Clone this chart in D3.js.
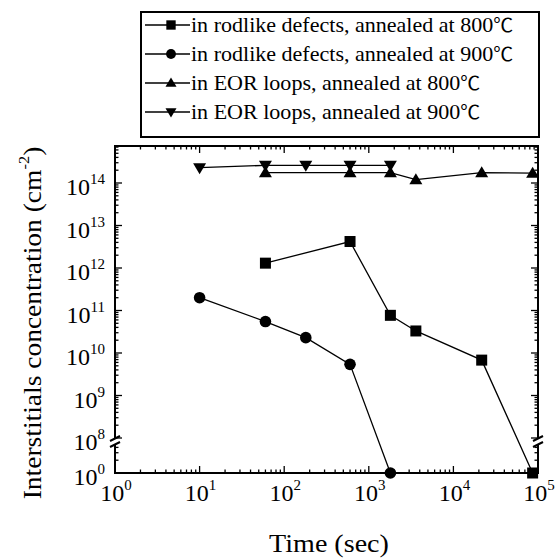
<!DOCTYPE html>
<html><head><meta charset="utf-8">
<script src="https://cdn.jsdelivr.net/npm/d3@7"></script>
<style>
html,body{margin:0;padding:0;background:#fff;}
</style></head>
<body><svg id="c" width="558" height="560"></svg>
<script>
// ---- data ----
const seriesNames = [
  "in rodlike defects, annealed at 800",
  "in rodlike defects, annealed at 900",
  "in EOR loops, annealed at 800",
  "in EOR loops, annealed at 900"
];
const unitSymbol = "\u2103";
const timeRod800 = [60, 600, 1800, 3600, 21600, 86400];
const rod800 = [1.3e12, 4.2e12, 7.7e10, 3.3e10, 6.8e9, 1];
const timeRod900 = [10, 60, 180, 600, 1800];
const rod900 = [2.0e11, 5.5e10, 2.3e10, 5.4e9, 1];
const timeEOR800 = [60, 600, 1800, 3600, 21600, 86400];
const eor800 = [1.75e14, 1.75e14, 1.75e14, 1.2e14, 1.75e14, 1.7e14];
const timeEOR900 = [10, 60, 180, 600, 1800];
const eor900 = [2.3e14, 2.6e14, 2.6e14, 2.6e14, 2.6e14];
const xTickExps = [0, 1, 2, 3, 4, 5];
const yTickExpsUpper = [8, 9, 10, 11, 12, 13, 14];
const yTickExpsLower = [0];
const markerTypes = ["square", "circle", "triangleUp", "triangleDown"];

const FONT = "Liberation Serif";
// ---- layout ----
const svg = d3.select("#c");
const L = 115, R = 538, T = 146, B = 473;
const breakTop = 439, breakBot = 445;
const x = d3.scaleLog().domain([1, 1e5]).range([L, R]);
const yUp = d3.scaleLog().domain([1e8, 1e14]).range([438, 183]);
const yLo = d3.scaleLog().domain([1, 10]).range([B, B - 42.5]);
const Y = v => v >= 1e8 ? yUp(v) : yLo(v);
const topVal = yUp.invert(T);

const g = svg.append("g");

// ---- frame ----
const ax = g.append("g").attr("stroke", "#000").attr("stroke-width", 2).attr("fill", "none");
ax.append("line").attr("x1", L - 1).attr("x2", R + 1).attr("y1", B).attr("y2", B);
ax.append("line").attr("x1", L - 1).attr("x2", R + 1).attr("y1", T).attr("y2", T);
[L, R].forEach(xx => {
  ax.append("line").attr("x1", xx).attr("x2", xx).attr("y1", T).attr("y2", breakTop);
  ax.append("line").attr("x1", xx).attr("x2", xx).attr("y1", breakBot).attr("y2", B);
  ax.append("line").attr("x1", xx - 5).attr("x2", xx + 5).attr("y1", breakTop + 2).attr("y2", breakTop - 3);
  ax.append("line").attr("x1", xx - 5).attr("x2", xx + 5).attr("y1", breakBot + 2).attr("y2", breakBot - 3);
});

// ---- ticks ----
const tk = g.append("g").attr("stroke", "#000").attr("stroke-width", 1.3);
const xMinor = [];
for (let e = 0; e < 5; e++) for (let m = 2; m <= 9; m++) xMinor.push(m * Math.pow(10, e));
xMinor.forEach(v => {
  tk.append("line").attr("x1", x(v)).attr("x2", x(v)).attr("y1", B).attr("y2", B - 3.5);
  tk.append("line").attr("x1", x(v)).attr("x2", x(v)).attr("y1", T).attr("y2", T + 3.5);
});
xTickExps.forEach(e => {
  const v = Math.pow(10, e);
  tk.append("line").attr("x1", x(v)).attr("x2", x(v)).attr("y1", B).attr("y2", B - 7);
  tk.append("line").attr("x1", x(v)).attr("x2", x(v)).attr("y1", T).attr("y2", T + 7);
});
const yMinorUp = [];
for (let e = 8; e <= 14; e++) for (let m = 2; m <= 9; m++) {
  const v = m * Math.pow(10, e);
  if (v < topVal) yMinorUp.push(v);
}
const yMinorLo = [2, 3, 4];
yMinorUp.concat(yMinorLo).forEach(v => {
  [[L, 1], [R, -1]].forEach(([xx, s]) =>
    tk.append("line").attr("x1", xx).attr("x2", xx + s * 3.5).attr("y1", Y(v)).attr("y2", Y(v)));
});
yTickExpsUpper.map(e => Math.pow(10, e)).concat(yTickExpsLower.map(e => Math.pow(10, e))).forEach(v => {
  [[L, 1], [R, -1]].forEach(([xx, s]) =>
    tk.append("line").attr("x1", xx).attr("x2", xx + s * 7).attr("y1", Y(v)).attr("y2", Y(v)));
});

// ---- tick labels ----
const lab = g.append("g");
function powLabel(sel, e) {
  sel.attr("font-family", FONT).attr("font-size", 24).attr("fill", "#000");
  sel.append("tspan").text("10");
  sel.append("tspan").attr("font-size", 15).attr("dy", -11).text(e);
}
xTickExps.forEach(e => {
  const t = lab.append("text").attr("x", x(Math.pow(10, e)) + 1).attr("y", 501).attr("text-anchor", "middle");
  powLabel(t, e);
});
yTickExpsUpper.concat(yTickExpsLower).forEach(e => {
  const v = Math.pow(10, e);
  const t = lab.append("text").attr("x", 105).attr("y", Y(v) + 12).attr("text-anchor", "end");
  powLabel(t, e);
});

// ---- axis titles ----
g.append("text").attr("transform", "translate(329,552) scale(1.08,1)").attr("text-anchor", "middle")
  .attr("font-family", FONT).attr("font-size", 26).text("Time (sec)");
const yt = g.append("text").attr("transform", "translate(41,323) rotate(-90) scale(1.1,1)")
  .attr("text-anchor", "middle").attr("font-family", FONT).attr("font-size", 25);
yt.append("tspan").text("Interstitials concentration (cm");
yt.append("tspan").attr("font-size", 15).attr("dy", -12).text("-2");
yt.append("tspan").attr("dy", 12).text(")");

// ---- series ----
const series = [
  {t: timeRod800, v: rod800},
  {t: timeRod900, v: rod900},
  {t: timeEOR800, v: eor800},
  {t: timeEOR900, v: eor900}
];
function marker(sel, type, cx, cy, k = 1) {
  if (type === "square") sel.append("rect").attr("x", cx - 5.5 * k).attr("y", cy - 5.5 * k).attr("width", 11 * k).attr("height", 11 * k);
  else if (type === "circle") sel.append("circle").attr("cx", cx).attr("cy", cy).attr("r", 5.8 * k);
  else if (type === "triangleUp") sel.append("path").attr("d", `M${cx - 6.5 * k},${cy + 4.5 * k}L${cx + 6.5 * k},${cy + 4.5 * k}L${cx},${cy - 6.5 * k}Z`);
  else sel.append("path").attr("d", `M${cx - 6.5 * k},${cy - 4.5 * k}L${cx + 6.5 * k},${cy - 4.5 * k}L${cx},${cy + 6.5 * k}Z`);
}
const line = d3.line().x(d => x(d[0])).y(d => Y(d[1]));
series.forEach((s, i) => {
  const pts = s.t.map((t, j) => [t, s.v[j]]);
  g.append("path").attr("d", line(pts)).attr("fill", "none").attr("stroke", "#000").attr("stroke-width", 1.3);
  const mg = g.append("g").attr("fill", "#000");
  pts.forEach(p => marker(mg, markerTypes[i], x(p[0]), Y(p[1])));
});

// ---- legend ----
const lg = g.append("g");
lg.append("rect").attr("x", 141).attr("y", 12).attr("width", 398).attr("height", 125)
  .attr("fill", "#fff").attr("stroke", "#000").attr("stroke-width", 2);
seriesNames.forEach((name, i) => {
  const yy = 25 + i * 29;
  lg.append("line").attr("x1", 145).attr("x2", 190).attr("y1", yy).attr("y2", yy)
    .attr("stroke", "#000").attr("stroke-width", 1.3);
  const mg = lg.append("g").attr("fill", "#000");
  marker(mg, markerTypes[i], 171, yy, 0.85);
  const t = lg.append("text").attr("transform", `translate(191,${yy + 7}) scale(1.05,1)`)
    .attr("font-family", FONT).attr("font-size", 21);
  t.append("tspan").text(name);
  t.append("tspan").attr("font-family", "Noto Sans CJK SC").attr("font-size", 19).text(unitSymbol);
});
</script></body></html>
